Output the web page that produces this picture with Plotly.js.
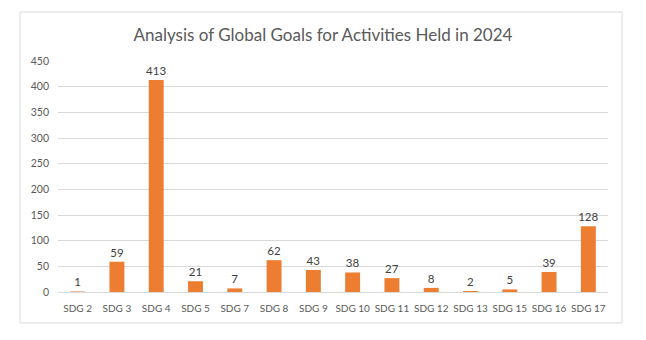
<!DOCTYPE html>
<html>
<head>
<meta charset="utf-8">
<script src="https://cdn.plot.ly/plotly-3.0.1.min.js"></script>
<style>html,body{margin:0;padding:0;background:#fff;}#chart{width:646px;height:340px;}</style>
</head>
<body>
<div id="chart"></div>
<script>
const categories = ["SDG 2","SDG 3","SDG 4","SDG 5","SDG 7","SDG 8","SDG 9","SDG 10","SDG 11","SDG 12","SDG 13","SDG 15","SDG 16","SDG 17"];
const values = [1,59,413,21,7,62,43,38,27,8,2,5,39,128];
const yTicks = [0,50,100,150,200,250,300,350,400,450];

const font = "Lato, 'Open Sans', 'Liberation Sans', sans-serif";

Plotly.newPlot('chart', [{
  type: 'bar',
  x: categories,
  y: values,
  marker: {color: '#ED7D31'},
  text: values.map(String),
  textposition: 'outside',
  constraintext: 'none',
  textfont: {family: font, size: 11.5, color: '#404040'},
  outsidetextfont: {family: font, size: 11.5, color: '#404040'},
  insidetextfont: {family: font, size: 11.5, color: '#404040'},
  cliponaxis: false,
  hoverinfo: 'none'
}], {
  width: 646, height: 340,
  margin: {l: 58, r: 38, t: 61, b: 48},
  paper_bgcolor: '#ffffff',
  plot_bgcolor: '#ffffff',
  showlegend: false,
  bargap: 0.62,
  title: {text: 'Analysis of Global Goals for Activities Held in 2024', x: 0.5, xanchor: 'center', y: 0.897, yanchor: 'middle', yref: 'container',
          font: {family: font, size: 17, color: '#595959'}},
  xaxis: {type: 'category', tickangle: 0, tickfont: {family: font, size: 10, color: '#595959'}, showline: true, linecolor: '#d9d9d9', linewidth: 1, ticks: '', showgrid: false, zeroline: false, ticklabelstandoff: 7},
  yaxis: {range: [0, 450], tickvals: yTicks, ticktext: yTicks.map(String), tickfont: {family: font, size: 10.5, color: '#595959'}, gridcolor: '#d9d9d9', gridwidth: 1, zeroline: false, showline: false, ticks: '', ticklabelstandoff: 8},
  shapes: [{type: 'rect', xref: 'paper', yref: 'paper', x0: -0.069, x1: 1.0255, y0: -0.134, y1: 1.212, line: {color: '#d9d9d9', width: 1}, fillcolor: 'rgba(0,0,0,0)', layer: 'below'}]
}, {staticPlot: true, displayModeBar: false});
</script>
</body>
</html>
